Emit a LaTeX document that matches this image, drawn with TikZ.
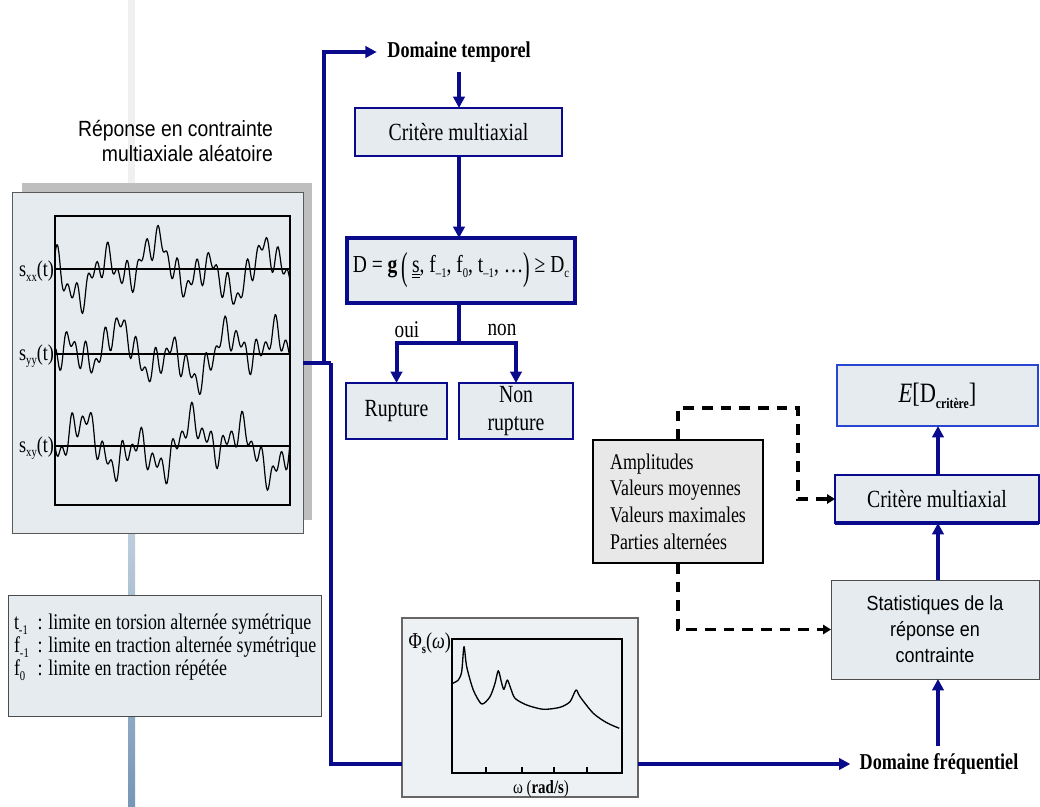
\documentclass[tikz,border=0pt]{standalone}
\usepackage{fontspec}
\setmainfont{Liberation Serif}[FakeStretch=0.8]
\newfontfamily\arial{Liberation Sans}[FakeStretch=0.88]
\usetikzlibrary{arrows.meta,calc}
\definecolor{navy}{RGB}{10,10,140}
\definecolor{boxfill}{RGB}{229,235,239}
\definecolor{shadowgray}{RGB}{190,190,190}
\definecolor{ebl}{RGB}{40,70,210}
\definecolor{steel}{RGB}{118,150,182}
\definecolor{ampfill}{RGB}{232,232,232}
\newcommand\fs[2]{\fontsize{#1}{#2}\selectfont}
\newcommand\sbx[1]{\raisebox{-0.45ex}{\fs{10}{10}#1}}
\begin{document}
\begin{tikzpicture}[x=0.75pt,y=-0.75pt,
  every node/.style={inner sep=0pt, outer sep=0pt},
  R/.style n args={4}{at={($(#1,#2)!0.5!(#3,#4)$)}, minimum width={(#3-#1)*0.75pt}, minimum height={(#4-#2)*0.75pt}},
  flow/.style={draw=navy, line width=3pt, -{Triangle[length=8.5pt,width=8.5pt]}},
  flowline/.style={draw=navy, line width=3pt},
  dsh/.style={draw=black, line width=2.6pt, dash pattern=on 8pt off 6pt, -{Triangle[length=6pt,width=7pt]}},
  sig/.style={draw=black, line width=0.9pt, line join=round},
  nbox/.style={draw=navy, fill=boxfill, line width=1.1pt},
]
\useasboundingbox[fill=white] (0,0) rectangle (1040,807);

% background bar
\fill[black!6] (128,0) rectangle (135,190);
\shade[top color=white!55!steel, bottom color=steel] (128,520) rectangle (135,807);

% title
\node[anchor=east, align=right, font=\arial\fs{16.5}{18.75}] (title) at (273,141) {Réponse en contrainte\\multiaxiale aléatoire};

% signal box
\fill[shadowgray] (22,183) rectangle (312,520);
\node[R={12}{192}{303}{533}, draw=black!65, fill=boxfill, line width=0.6pt] (sig) {};
\node[R={55}{216}{290}{505}, draw=black, line width=1pt] (sigplot) {};
\foreach \Y/\pa/\pb/\pc/\pd in {269/0/40/120/200, 354/70/150/10/300, 446/200/100/250/50} {
  \draw[black, line width=0.9pt] (55,\Y) -- (290,\Y);
  \draw[sig] plot[domain=0:235, samples=240, variable=\t]
    ({55+\t}, {\Y - (10*sin(36*\t+\pa) + 9*sin(21*\t+\pb) + 16*sin(6.8*\t+\pc) + 13*sin(2.6*\t+\pd))});
}
\node[anchor=east, font=\fs{17}{17}] (lxx) at (54,271) {s\sbx{xx}(t)};
\node[anchor=east, font=\fs{17}{17}] (lyy) at (54,356) {s\sbx{yy}(t)};
\node[anchor=east, font=\fs{17}{17}] (lxy) at (54,448) {s\sbx{xy}(t)};

% legend box
\node[R={8}{595}{321}{716}, draw=black!70, fill=boxfill, line width=0.7pt] (leg) {};
\node[anchor=north west, align=left, font=\fs{16.8}{17.2}] (legtxt) at (14,614)
  {\makebox[1.05em][l]{t\sbx{-1}}: limite en torsion alternée symétrique\\
   \makebox[1.05em][l]{f\sbx{-1}}: limite en traction alternée symétrique\\
   \makebox[1.05em][l]{f\sbx{0}}: limite en traction répétée};

% temporal branch
\node[font=\bfseries\fs{17}{17}] (dt) at (459,52) {Domaine temporel};
\node[R={355}{108}{562}{156}, nbox, font=\fs{18.5}{18.5}] (crit1) {Critère multiaxial};
\draw[navy, line width=1.8pt] (crit1.south west) -- (crit1.south east) -- (crit1.north east);
\node[R={347}{238}{575}{303}, nbox, line width=2.4pt, font=\fs{18.3}{18.3}] (dbox)
  {D = \textbf{g}\,\raisebox{-0.3em}{\scalebox{1}[1.6]{(}}\,\mbox{$\underline{\underline{\hbox{s}}}$}, f\sbx{–1}, f\sbx{0}, t\sbx{–1}, …\raisebox{-0.3em}{\scalebox{1}[1.6]{)}} ≥ D\sbx{c}};
\node[R={346}{383}{447}{439}, nbox, line width=0.9pt, font=\fs{18.5}{18.5}] (rup) {Rupture};
\node[R={459}{383}{573}{439}, nbox, line width=0.9pt, align=center, font=\fs{18.5}{21}] (nr) {Non\\rupture};
\node[font=\fs{18}{18}] (oui) at (407,330) {oui};
\node[font=\fs{18}{18}] (non) at (502,330) {non};
\coordinate (br) at (459,343);

% fork from signal box
\coordinate (forkU) at (324,363);
\coordinate (forkD) at (331,363);
\draw[flowline] (sig.east |- forkD) -- (forkD);
\draw[flow, shorten >=8pt] (forkU) |- (dt.west);
\draw[flow, shorten <=7pt] (dt.south -| br) -- (crit1.north -| br);
\draw[flow] (crit1.south -| br) -- (dbox.north -| br);
\draw[flowline] (dbox.south -| br) -- (br);
\draw[flow] (br) -| (rup.north);
\draw[flow] (br) -| (nr.north);

% PSD box
\node[R={402}{618}{638}{797}, draw=black!60, fill=boxfill!70!white, line width=0.8pt] (phi) {};
\node[R={452}{639}{622}{773}, draw=black, line width=0.9pt] (phiplot) {};
\foreach \x in {486,522,554,587} \draw[line width=0.8pt] (\x,773) -- (\x,767);
\draw[black, line width=1pt, line join=round] plot[smooth, tension=0.45] coordinates {
 (452.7,683.3) (458.3,680) (461.7,671.7) (464,646.7) (466.7,666.7) (473.3,690) (481.7,704)
 (490,696.7) (495,683.3) (498.3,670.7) (501.7,683.3) (504,689.3) (507.3,680) (510.7,688.3)
 (515,698.3) (526.7,705) (543.3,709.3) (560,707.3) (570,701.7) (576,690) (580,696.7)
 (593.3,713.3) (606.7,722.7) (619.3,728.3)};
\node[anchor=east, font=\fs{17}{17}] (philab) at (451,643) {Φ\sbx{\bfseries s}(\textit{ω})};
\node[font=\fs{14}{14}] (omlab) at (541,789) {ω (\textbf{rad/s})};

% frequency branch
\node[font=\bfseries\fs{17}{17}] (df) at (939,764) {Domaine fréquentiel};
\draw[flowline] (forkD) |- (phi.west |- df);
\draw[flow, shorten >=7pt] (phi.east |- df) -- (df.west);

% right column
\coordinate (xr) at (938,0);
\node[R={837}{365}{1038}{426}, draw=ebl, fill=boxfill, line width=2.2pt, font=\fs{21}{21}] (ebox)
  {\textit{E}[D\raisebox{-0.45ex}{\fs{11}{11}\bfseries critère}]};
\node[R={835}{475}{1039}{523}, nbox, font=\fs{18.5}{18.5}] (crit2) {Critère multiaxial};
\draw[navy, line width=2.4pt] (crit2.south west) -- (crit2.south east);
\node[R={831}{580}{1039}{679}, draw=black!70, fill=boxfill, line width=0.7pt, align=center,
  font=\arial\fs{15.3}{19.5}] (stats) {Statistiques de la\\réponse en\\contrainte};
\draw[flow, shorten <=6pt] (df.north -| xr) -- (stats.south -| xr);
\draw[flow] (stats.north -| xr) -- (crit2.south -| xr);
\draw[flow] (crit2.north -| xr) -- (ebox.south -| xr);

% amplitudes box
\node[R={593}{440}{763}{563}, draw=black, line width=1.8pt, fill=ampfill, align=left,
  font=\fs{16.8}{20}] (amp) {Amplitudes\\Valeurs moyennes\\Valeurs maximales\\Parties alternées};
\coordinate (d1) at (798,408);
\draw[dsh] (amp.north) |- (d1) |- (crit2.west);
\draw[dsh] (amp.south) |- (stats.west);
\end{tikzpicture}
\end{document}
